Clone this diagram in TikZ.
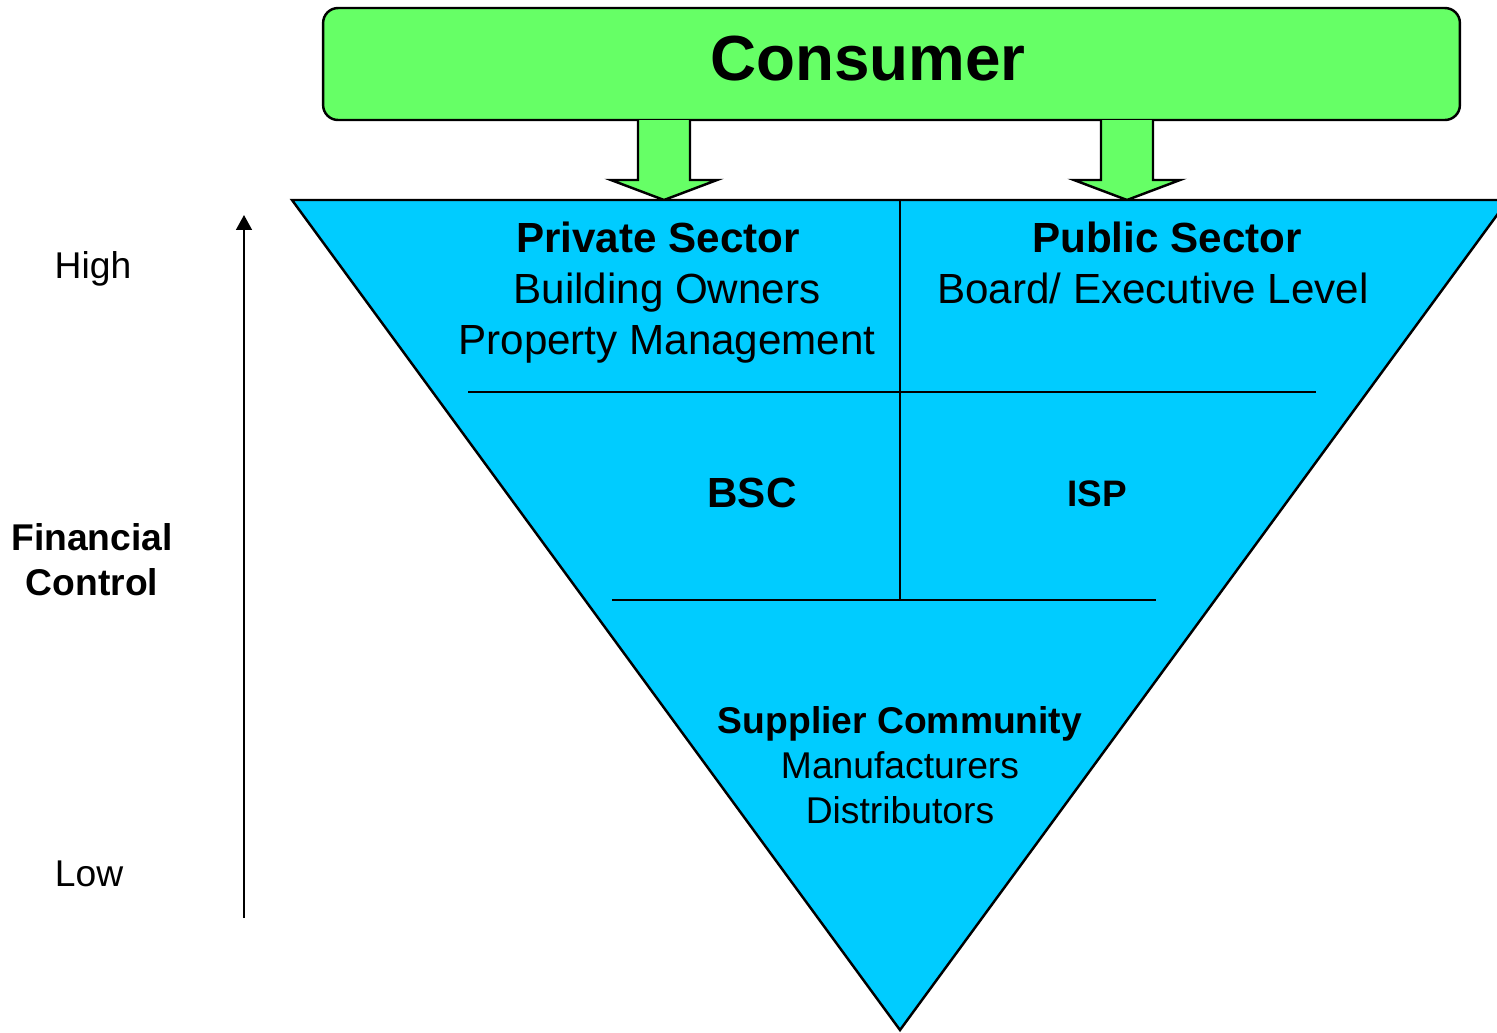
\documentclass[tikz,border=0pt]{standalone}
\usepackage{fontspec}
\setmainfont{Liberation Sans}
\usetikzlibrary{arrows.meta}
\definecolor{consumergreen}{HTML}{66FF66}
\definecolor{sectorblue}{HTML}{00CCFF}
\tikzset{
  outline/.style={draw=black, line width=1.4pt},
  divider/.style={draw=black, line width=1.1pt},
  bigtext/.style={font=\fontsize{24}{29}\selectfont, align=center, inner sep=0pt},
  midtext/.style={font=\fontsize{21.2}{25.6}\selectfont, align=center, inner sep=0pt},
  blockarrow/.style={outline, fill=consumergreen, line join=miter}
}
\begin{document}
\begin{tikzpicture}[x=0.02cm, y=-0.02cm]

  \useasboundingbox (0,0) rectangle (1497,1032);

  \begin{scope}
  \node (consumer) [outline, fill=consumergreen, rounded corners=8.5pt,
        minimum width=22.74cm, minimum height=2.24cm, inner sep=0pt]
        at (891.5,64) {};
  \node (consumerlabel) [anchor=base, inner sep=0pt,
        font=\fontsize{36.3}{44}\selectfont\bfseries] at (868,80) {Consumer};
  \foreach \tipx in {664,1127}
    \filldraw[blockarrow] ({\tipx-26},120) -- ({\tipx-26},180) -- ({\tipx-53},180)
      -- (\tipx,200) -- ({\tipx+53},180) -- ({\tipx+26},180) -- ({\tipx+26},120);
  \end{scope}

  \begin{scope}
  \coordinate (topleft) at (292,200);
  \coordinate (topright) at (1508,200);
  \coordinate (bottom) at (900,1030);
  \filldraw[outline, fill=sectorblue] (topleft) -- (topright) -- (bottom) -- cycle;
  \draw[divider] (900,200) -- (900,600);
  \draw[divider] (468,392) -- (1316,392);
  \draw[divider] (612,600) -- (1156,600);
  \node (private) [bigtext, anchor=north] at (667,222)
        {\textbf{Private Sector}\hspace*{0.43em}\\Building Owners\\Property Management};
  \node (public) [bigtext, anchor=north] at (1167,222)
        {\textbf{Public Sector}\\Board/ Executive Level\hspace*{0.67em}};
  \node (bsc) [bigtext, anchor=base, font=\fontsize{24}{29}\selectfont\bfseries] at (752,507) {BSC};
  \node (isp) [midtext, anchor=base, font=\fontsize{21}{25}\selectfont\bfseries] at (1097,506) {ISP};
  \node (supplier) [midtext, anchor=north] at (900,706)
        {\textbf{Supplier Community}\\Manufacturers\\Distributors};
  \end{scope}

  \begin{scope}
  \coordinate (lowend) at (244,918);
  \coordinate (highend) at (244,215);
  \draw[-{Triangle[length=8.5pt,width=9pt]}, line width=1.1pt] (lowend) -- (highend);
  \node (high) [midtext, anchor=base] at (93,278) {High};
  \node (control) [midtext, anchor=north] at (92,523) {\textbf{Financial}\\\textbf{Control}};
  \node (low) [midtext, anchor=base] at (89,886) {Low};
  \end{scope}

\end{tikzpicture}
\end{document}
